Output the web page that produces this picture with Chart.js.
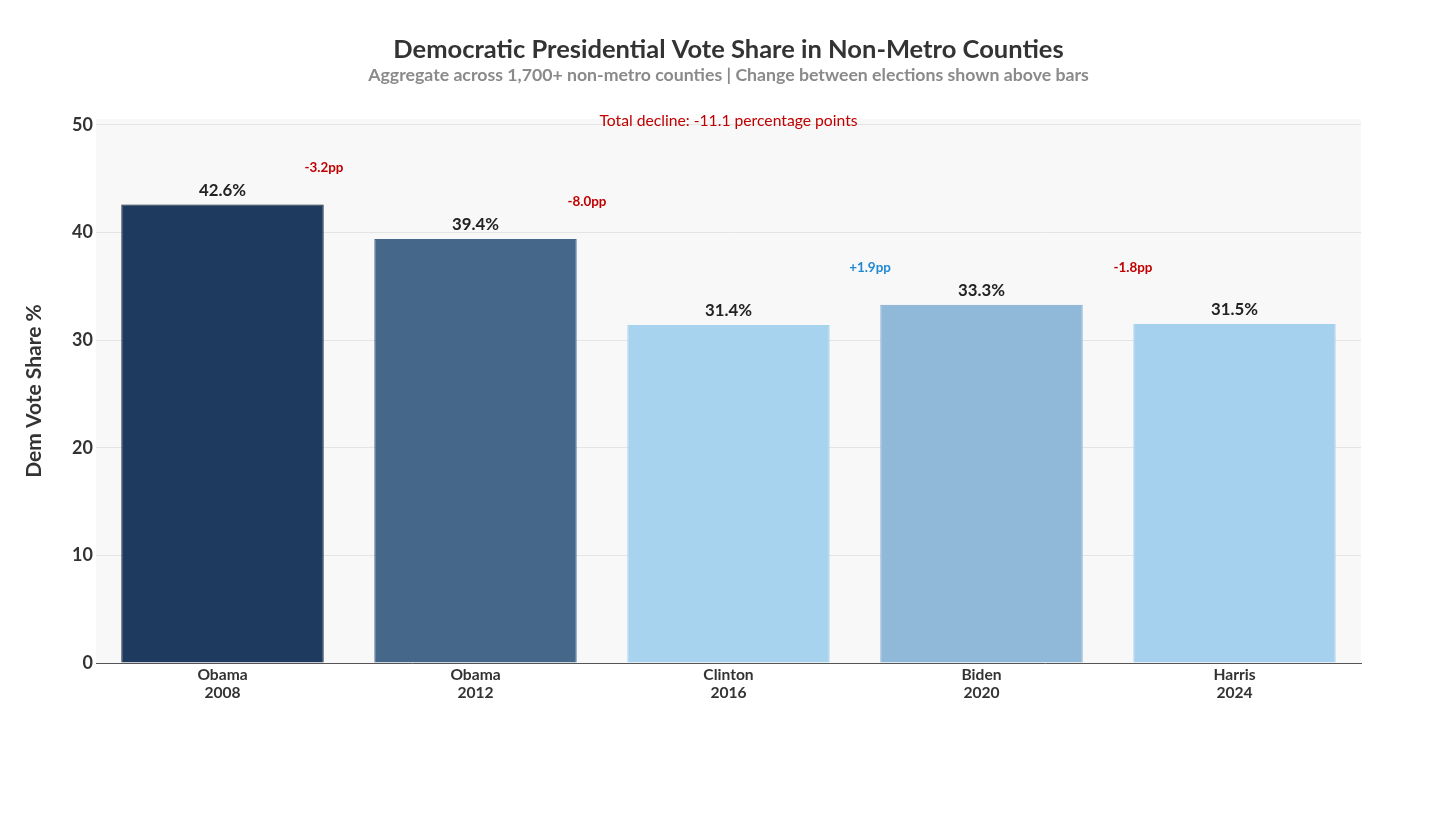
<!DOCTYPE html>
<html>
<head>
<meta charset="utf-8">
<script src="https://cdn.jsdelivr.net/npm/chart.js@4"></script>
<style>
  html, body { margin: 0; padding: 0; background: #ffffff; }
  #wrap { width: 1456px; height: 818px; }
</style>
</head>
<body>
<div id="wrap"><canvas id="myChart"></canvas></div>
<script>
// data
var candidates = ["Obama", "Obama", "Clinton", "Biden", "Harris"];
var years = ["2008", "2012", "2016", "2020", "2024"];
var voteShare = [42.6, 39.4, 31.4, 33.3, 31.5];
var changes = [-3.2, -8.0, 1.9, -1.8];
var totalDecline = -11.1;
var yTicks = [0, 10, 20, 30, 40, 50];

var barColors = ["#1f3a5f", "#45678a", "#a8d3ef", "#90b8d8", "#a6d1ee"];
var barBorders = ["#08152b", "#45678a", "#a8d3ef", "#7ea9d0", "#a6d1ee"];

var FONT = "Lato, 'Noto Sans', sans-serif";

// background of plot area + title block
var backdrop = {
  id: "backdrop",
  beforeDraw: function(chart) {
    var c = chart.ctx, a = chart.chartArea;
    c.save();
    c.fillStyle = "#f8f8f8";
    c.fillRect(a.left, a.top, a.right - a.left, a.bottom - a.top);
    c.restore();
  },
  afterDraw: function(chart) {
    var c = chart.ctx, a = chart.chartArea;
    var cx = (a.left + a.right) / 2;
    c.save();
    c.textAlign = "center";
    c.textBaseline = "middle";
    c.fillStyle = "#333333";
    c.font = "bold 25.5px " + FONT;
    c.fillText("Democratic Presidential Vote Share in Non-Metro Counties", cx, 50);
    c.fillStyle = "#8a8a8a";
    c.font = "bold 17.7px " + FONT;
    c.fillText("Aggregate across 1,700+ non-metro counties | Change between elections shown above bars", cx, 75);
    c.fillStyle = "#c00000";
    c.font = "15.7px " + FONT;
    c.fillText("Total decline: " + totalDecline.toFixed(1) + " percentage points", cx, a.top + 2);
    c.restore();
  }
};

// value labels on bars and change labels between bars
var barLabels = {
  id: "barLabels",
  afterDatasetsDraw: function(chart) {
    var c = chart.ctx;
    var bars = chart.getDatasetMeta(0).data;
    var yScale = chart.scales.y;
    var nudge = [-25, -15, 15, 25];
    c.save();
    c.textAlign = "center";
    c.textBaseline = "middle";
    c.fillStyle = "#222222";
    c.font = "bold 16.8px " + FONT;
    bars.forEach(function(b, i) {
      c.fillText(voteShare[i].toFixed(1) + "%", b.x, b.y - 14);
    });
    c.font = "bold 13.4px " + FONT;
    changes.forEach(function(d, i) {
      var mid = (bars[i].x + bars[i + 1].x) / 2 + nudge[i];
      var top = yScale.getPixelForValue(Math.max(voteShare[i], voteShare[i + 1]));
      c.fillStyle = d < 0 ? "#c00000" : "#1f8ad2";
      c.fillText((d > 0 ? "+" : "") + d.toFixed(1) + "pp", mid, top - 37);
    });
    c.restore();
  }
};

var labels = candidates.map(function(n, i) { return [n, years[i]]; });

new Chart(document.getElementById("myChart"), {
  type: "bar",
  data: {
    labels: labels,
    datasets: [{
      data: voteShare,
      backgroundColor: barColors,
      borderColor: barBorders,
      borderWidth: 1,
      categoryPercentage: 0.8,
      barPercentage: 1.0
    }]
  },
  options: {
    responsive: true,
    maintainAspectRatio: false,
    animation: false,
    layout: { padding: { left: 12, right: 95, top: 119, bottom: 0 } },
    plugins: {
      legend: { display: false },
      tooltip: { enabled: false }
    },
    scales: {
      x: {
        grid: { display: false, drawTicks: false },
        border: { display: true, color: "#555555", width: 1 },
        ticks: {
          color: "#333333",
          padding: 3,
          font: { family: FONT, size: 15.6, weight: "bold", lineHeight: 1.15 }
        },
        afterFit: function(s) { s.height = 155; }
      },
      y: {
        min: 0,
        max: 50.55,
        afterBuildTicks: function(s) {
          s.ticks = yTicks.map(function(v) { return { value: v }; });
        },
        grid: { color: "#e4e4e4", drawTicks: false },
        border: { display: false },
        ticks: {
          color: "#333333",
          padding: 3,
          font: { family: FONT, size: 18, weight: "bold" }
        },
        title: {
          display: true,
          text: "Dem Vote Share %",
          color: "#333333",
          padding: { top: 10, bottom: 0 },
          font: { family: FONT, size: 21, weight: "bold" }
        },
        afterFit: function(s) { s.width = 84; }
      }
    }
  },
  plugins: [backdrop, barLabels]
});
</script>
</body>
</html>
